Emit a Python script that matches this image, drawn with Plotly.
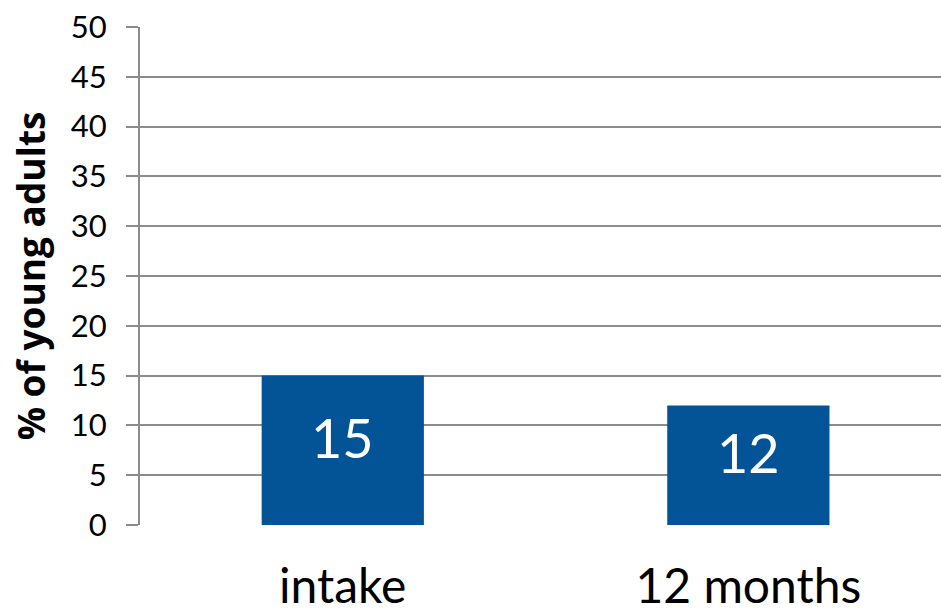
import plotly.graph_objects as go

# Share of young adults at each time point
categories = ["intake", "12 months"]
values = [15, 12]

y_ticks = list(range(0, 51, 5))

BAR_COLOR = "#035496"
GRID_COLOR = "#8c8c8c"
FONT = "Lato"

fig = go.Figure(
    go.Bar(
        x=categories,
        y=values,
        width=0.4,
        marker=dict(color=BAR_COLOR, line=dict(width=0)),
        hoverinfo="skip",
    )
)

# value labels, centred in each bar (slightly above the middle)
for cat, v in zip(categories, values):
    fig.add_annotation(
        x=cat,
        y=v / 2,
        text=str(v),
        showarrow=False,
        yshift=13,
        font=dict(family=FONT, size=54, color="white"),
    )

fig.update_layout(
    width=941,
    height=614,
    margin=dict(l=140, r=0, t=27, b=89),
    paper_bgcolor="white",
    plot_bgcolor="white",
    showlegend=False,
    font=dict(family=FONT, color="black"),
)

fig.update_xaxes(
    type="category",
    range=[-0.5, 1.475],
    automargin=False,
    showgrid=False,
    showline=False,
    ticks="",
    tickfont=dict(family=FONT, size=48, color="black"),
    ticklabelstandoff=29,
)

fig.update_yaxes(
    range=[0, 50],
    tickvals=y_ticks,
    automargin=False,
    showgrid=True,
    gridcolor=GRID_COLOR,
    gridwidth=2,
    zeroline=False,
    showline=True,
    linecolor=GRID_COLOR,
    linewidth=2,
    ticks="outside",
    ticklen=12,
    tickwidth=2,
    tickcolor=GRID_COLOR,
    tickfont=dict(family=FONT, size=31, color="black"),
    ticklabelstandoff=13,
    title=dict(
        text="<b>% of young adults</b>",
        font=dict(family="Open Sans", size=37, color="black"),
        standoff=14,
    ),
)

fig.write_html("out.html")
